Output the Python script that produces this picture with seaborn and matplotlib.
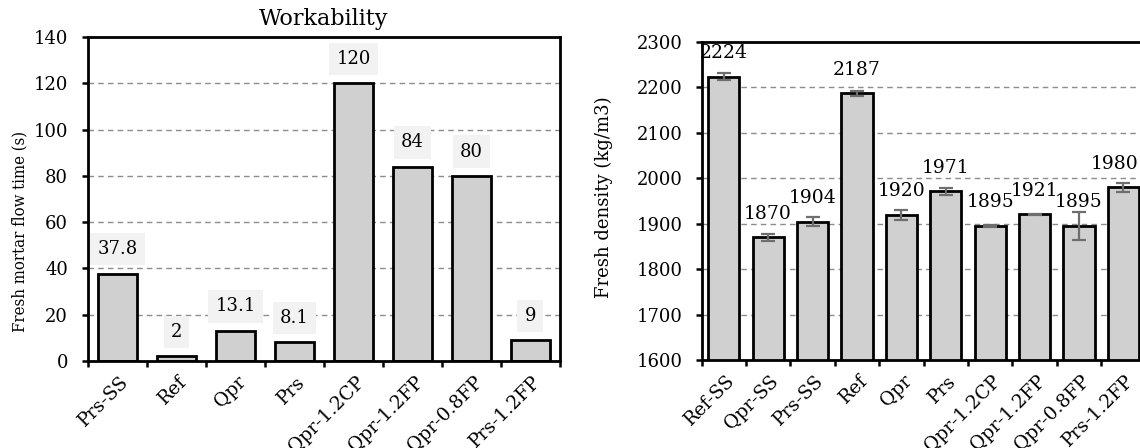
import pandas as pd
import matplotlib
matplotlib.use("Agg")
import matplotlib.pyplot as plt
import matplotlib.transforms as mtransforms
import numpy as np
import seaborn as sns

# workability data
flow_mixes = ['Prs-SS', 'Ref', 'Qpr', 'Prs', 'Qpr-1.2CP', 'Qpr-1.2FP', 'Qpr-0.8FP', 'Prs-1.2FP']
flow_time = [37.8, 2, 13.1, 8.1, 120, 84, 80, 9]
flow_labels = ['37.8', '2', '13.1', '8.1', '120', '84', '80', '9']

# fresh density data
dens_mixes = ['Ref-SS', 'Qpr-SS', 'Prs-SS', 'Ref', 'Qpr', 'Prs', 'Qpr-1.2CP', 'Qpr-1.2FP', 'Qpr-0.8FP', 'Prs-1.2FP']
density = [2224, 1870, 1904, 2187, 1920, 1971, 1895, 1921, 1895, 1980]
density_err = [8, 7, 10, 6, 11, 8, 2, 1, 31, 10]

sns.set_style('white')
plt.rcParams['font.family'] = ['DejaVu Serif']
plt.rcParams['font.size'] = 13
for key in ['text.color', 'axes.labelcolor', 'xtick.color', 'ytick.color']:
    plt.rcParams[key] = 'black'

bar_color = '#d0d0d0'
grid_color = '#8c8c8c'

fig = plt.figure(figsize=(11.4, 4.48), dpi=100)
ax1 = fig.add_axes([0.0772, 0.1942, 0.414, 0.7232])
ax2 = fig.add_axes([0.6154, 0.1964, 0.3895, 0.7098])


def style_axes(ax, n, ypad):
    ax.set_xlim(-0.5, n - 0.5)
    for s in ax.spines.values():
        s.set_linewidth(2)
        s.set_color('black')
    ax.yaxis.grid(True, linestyle=(0, (4, 3)), color=grid_color, linewidth=1)
    ax.set_axisbelow(True)
    ax.tick_params(axis='y', which='major', direction='out', length=4.3, width=1.8,
                   left=True, labelsize=13, pad=ypad)
    ax.set_xticks(np.arange(n))
    ax.set_xticks(np.arange(n + 1) - 0.5, minor=True)
    ax.tick_params(axis='x', which='major', length=0, pad=13)
    ax.tick_params(axis='x', which='minor', direction='out', length=4.5, width=1.8, bottom=True)
    shift = mtransforms.ScaledTranslation(8 / 100, 0, fig.dpi_scale_trans)
    for lab in ax.get_xticklabels():
        lab.set_rotation(45)
        lab.set_ha('right')
        lab.set_va('center')
        lab.set_rotation_mode('anchor')
        lab.set_fontsize(13.5)
        lab.set_transform(lab.get_transform() + shift)
    ax.set_xlabel('')


# left: workability
df1 = pd.DataFrame({'mix': flow_mixes, 'time': flow_time})
sns.barplot(data=df1, x='mix', y='time', ax=ax1, color=bar_color, width=0.67,
            edgecolor='black', linewidth=2, saturation=1)
ax1.set_ylim(0, 140)
ax1.set_yticks(np.arange(0, 141, 20))
style_axes(ax1, len(flow_mixes), 10)
ax1.set_ylabel('Fresh mortar flow time (s)', fontsize=12, fontstretch='condensed')
ax1.yaxis.set_label_coords(-0.127, 0.40)
ax1.set_title('Workability', fontsize=16, pad=9)
for i, (v, t) in enumerate(zip(flow_time, flow_labels)):
    ax1.annotate(t, (i, v), xytext=(0, 17.5), textcoords='offset points',
                 ha='center', va='center', fontsize=13,
                 bbox=dict(boxstyle='square,pad=0.4', fc='#f2f2f2', ec='none'))

# right: fresh density
df2 = pd.DataFrame({'mix': dens_mixes, 'density': density})
sns.barplot(data=df2, x='mix', y='density', ax=ax2, color=bar_color, width=0.7,
            edgecolor='black', linewidth=2, saturation=1)
ax2.errorbar(np.arange(len(dens_mixes)), density, yerr=density_err, fmt='none',
             ecolor='#6e6e6e', elinewidth=1.6, capsize=5, capthick=1.6, zorder=3)
ax2.set_ylim(1600, 2300)
ax2.set_yticks(np.arange(1600, 2301, 100))
style_axes(ax2, len(dens_mixes), 9.5)
ax2.set_ylabel('Fresh density (kg/m3)', fontsize=13)
ax2.yaxis.set_label_coords(-0.199, 0.513)
for i, v in enumerate(density):
    dx = -6 if i == len(density) - 1 else 0
    ax2.annotate(str(v), (i, v), xytext=(dx, 17), textcoords='offset points',
                 ha='center', va='center', fontsize=13.5)

fig.savefig('out.png', dpi=100)
